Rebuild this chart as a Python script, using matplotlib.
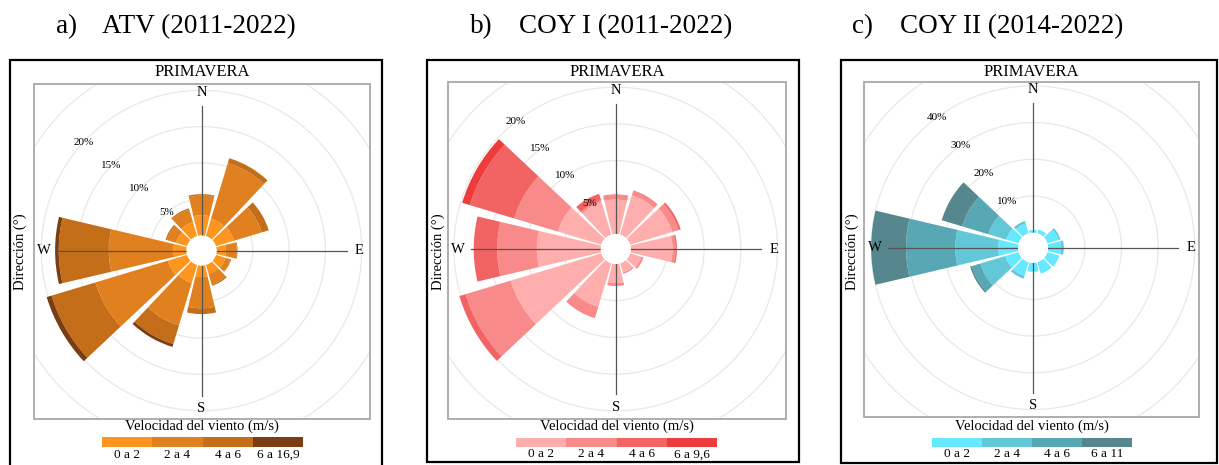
import numpy as np
import matplotlib.pyplot as plt
from matplotlib.patches import Rectangle

plt.rcParams['font.family'] = ['Liberation Serif', 'DejaVu Serif']

W, H = 1219, 465

# sector centres (compass degrees)
directions = [0, 30, 60, 90, 120, 150, 180, 210, 240, 270, 300, 330]

# a) ATV: frequency (%) per speed class
atv_0_2 = [2.8, 2.5, 2.6, 1.3, 1.4, 1.3, 1.6, 2.6, 2.8, 1.8, 1.6, 2.0]
atv_2_4 = [2.7, 8.0, 4.0, 1.5, 0.7, 1.5, 4.3, 6.1, 10.4, 8.9, 1.3, 1.8]
atv_4_6 = [0.2, 0.7, 1.0, 0.1, 0.1, 0.2, 0.8, 2.7, 6.3, 6.9, 0.2, 0.2]
atv_6_max = [0.0, 0.0, 0.0, 0.0, 0.0, 0.0, 0.0, 0.4, 0.7, 0.5, 0.0, 0.0]
atv_labels = ["0 a 2", "2 a 4", "4 a 6", "6 a 16,9"]
atv_colors = ["#fd951f", "#e0801e", "#c46e1a", "#7a3e12"]

# b) COY I
coy1_0_2 = [4.7, 5.6, 6.0, 5.7, 1.6, 1.3, 2.6, 6.2, 12.9, 8.7, 6.2, 4.6]
coy1_2_4 = [0.6, 0.7, 0.9, 0.4, 0.3, 0.2, 0.4, 1.6, 6.4, 5.4, 6.2, 0.3]
coy1_4_6 = [0.1, 0.0, 0.3, 0.2, 0.0, 0.0, 0.0, 0.0, 0.9, 3.2, 6.3, 0.9]
coy1_6_max = [0.0, 0.0, 0.0, 0.0, 0.0, 0.0, 0.0, 0.0, 0.0, 0.0, 1.1, 0.0]
coy1_labels = ["0 a 2", "2 a 4", "4 a 6", "6 a 9,6"]
coy1_colors = ["#ffaeae", "#f88a8a", "#f26464", "#ee3b3b"]

# c) COY II
coy2_0_2 = [0.7, 1.1, 3.2, 3.6, 3.4, 3.3, 2.5, 3.9, 3.8, 5.4, 3.5, 2.8]
coy2_2_4 = [0.0, 0.0, 0.5, 0.7, 0.0, 0.0, 0.0, 0.8, 7.1, 11.7, 5.1, 0.7]
coy2_4_6 = [0.0, 0.0, 0.0, 0.0, 0.0, 0.0, 0.0, 0.0, 2.4, 13.4, 7.5, 0.0]
coy2_6_max = [0.0, 0.0, 0.0, 0.0, 0.0, 0.0, 0.0, 0.0, 0.5, 9.5, 5.8, 0.0]
coy2_labels = ["0 a 2", "2 a 4", "4 a 6", "6 a 11"]
coy2_colors = ["#66e8ff", "#62c8d8", "#58a7b4", "#56878e"]

panels = [
    dict(letter="a)", name="ATV (2011-2022)", letter_x=56, name_x=102,
         classes=[atv_0_2, atv_2_4, atv_4_6, atv_6_max],
         labels=atv_labels, colors=atv_colors, step=5, px_step=36.3,
         center=(201.5, 250.5), box=(34, 84, 370, 419), border=(10, 60, 382, 480),
         leg=(102, 303, 437, 447), lab_ang=50, lab_off=7, ylab_x=20),
    dict(letter="b)", name="COY I (2011-2022)", letter_x=470, name_x=519,
         classes=[coy1_0_2, coy1_2_4, coy1_4_6, coy1_6_max],
         labels=coy1_labels, colors=coy1_colors, step=5, px_step=36.7,
         center=(615.7, 249), box=(448, 82, 786, 419), border=(427, 60, 799, 462),
         leg=(516, 717, 438, 447), lab_ang=42, lab_off=11, ylab_x=438),
    dict(letter="c)", name="COY II (2014-2022)", letter_x=852, name_x=900,
         classes=[coy2_0_2, coy2_2_4, coy2_4_6, coy2_6_max],
         labels=coy2_labels, colors=coy2_colors, step=10, px_step=36.7,
         center=(1033, 247.7), box=(864, 82, 1199, 417), border=(841, 60, 1217, 463),
         leg=(932, 1132, 438, 447), lab_ang=40, lab_off=10, ylab_x=852),
]


def fig_rect(x0, y0, x1, y1, **kw):
    return Rectangle((x0 / W, 1 - y1 / H), (x1 - x0) / W, (y1 - y0) / H,
                     transform=fig.transFigure, **kw)


def draw_panel(p):
    cx, cy = p["center"]
    half = 168
    hole = 15
    step = p["step"]
    rmax = (half - hole) / p["px_step"] * step
    rorig = -hole / p["px_step"] * step

    def px_to_r(px):
        return rorig + px / half * (rmax - rorig)

    # panel frame and inner grey box
    fig.patches.append(fig_rect(*p["border"], fill=False, ec="black", lw=1.6, zorder=5))
    bx0, by0, bx1, by1 = p["box"]
    fig.patches.append(fig_rect(bx0, by0, bx1, by1, fill=False, ec="#a8a8a8", lw=1.3, zorder=5))
    clip = fig_rect(bx0, by0, bx1, by1)

    ax = fig.add_axes([(cx - half) / W, 1 - (cy + half) / H, 2 * half / W, 2 * half / H],
                      projection="polar")
    ax.set_theta_zero_location("N")
    ax.set_theta_direction(-1)
    ax.set_autoscale_on(False)
    ax.set_ylim(0, rmax)
    ax.set_rorigin(rorig)
    ax.set_axis_off()

    # grid rings (clipped to the grey box, not the polar circle)
    t = np.linspace(0, 2 * np.pi, 361)
    for v in range(step, 5 * step + 1, step):
        ring, = ax.plot(t, np.full_like(t, v), color="#e8e8e8", lw=0.9, zorder=0)
        ring.set_clip_path(clip)

    theta = np.radians(directions)
    bottom = np.zeros(len(directions))
    for vals, col in zip(p["classes"], p["colors"]):
        ax.bar(theta, vals, width=np.radians(26.5), bottom=bottom, color=col,
               linewidth=0, zorder=2)
        bottom += np.array(vals)

    # axis cross
    r_sp = px_to_r(145)
    for th in [0, np.pi / 2, np.pi, 3 * np.pi / 2]:
        ax.plot([th, th], [0, r_sp], color="#555555", lw=0.9, zorder=3)

    for lab, ang in zip(["N", "E", "S", "W"], [0, 90, 180, 270]):
        ax.text(np.radians(ang), px_to_r(158), lab, ha="center", va="center",
                fontsize=10.5, clip_on=False, zorder=4)

    # radial tick labels
    a = np.radians(p["lab_ang"])
    dx = p["lab_off"] * np.cos(a) * 0.72
    dy = p["lab_off"] * np.sin(a) * 0.72
    for v in range(step, 4 * step + 1, step):
        ax.annotate(f"{v}%", xy=(np.radians(360 - p["lab_ang"]), v), xytext=(dx, dy),
                    textcoords="offset points", ha="center", va="center",
                    fontsize=8, annotation_clip=False, zorder=4)

    # texts
    mid = (bx0 + bx1) / 2
    fig.text(p["letter_x"] / W, 1 - 27 / H, p["letter"], fontsize=19.5, ha="left", va="center")
    fig.text(p["name_x"] / W, 1 - 27 / H, p["name"], fontsize=19.5, ha="left", va="center")
    fig.text(mid / W, 1 - 72 / H, "PRIMAVERA", fontsize=12, ha="center", va="center")
    fig.text(p["ylab_x"] / W, 1 - 252 / H, "Dirección (°)", fontsize=10.5, rotation=90,
             ha="center", va="center")
    fig.text(mid / W, 1 - 426.5 / H, "Velocidad del viento (m/s)", fontsize=10.5,
             ha="center", va="center")

    # colour legend
    lx0, lx1, ly0, ly1 = p["leg"]
    lax = fig.add_axes([lx0 / W, 1 - ly1 / H, (lx1 - lx0) / W, (ly1 - ly0) / H])
    lax.bar(range(4), 1, width=1, color=p["colors"], linewidth=0)
    lax.set_xlim(-0.5, 3.5)
    lax.set_ylim(0, 1)
    lax.set_axis_off()
    for i, lab in enumerate(p["labels"]):
        lax.text(i, -0.15, lab, ha="center", va="top", fontsize=9.5, clip_on=False)


fig = plt.figure(figsize=(W / 100, H / 100), dpi=100)
for p in panels:
    draw_panel(p)

fig.savefig("out.png", dpi=100)
